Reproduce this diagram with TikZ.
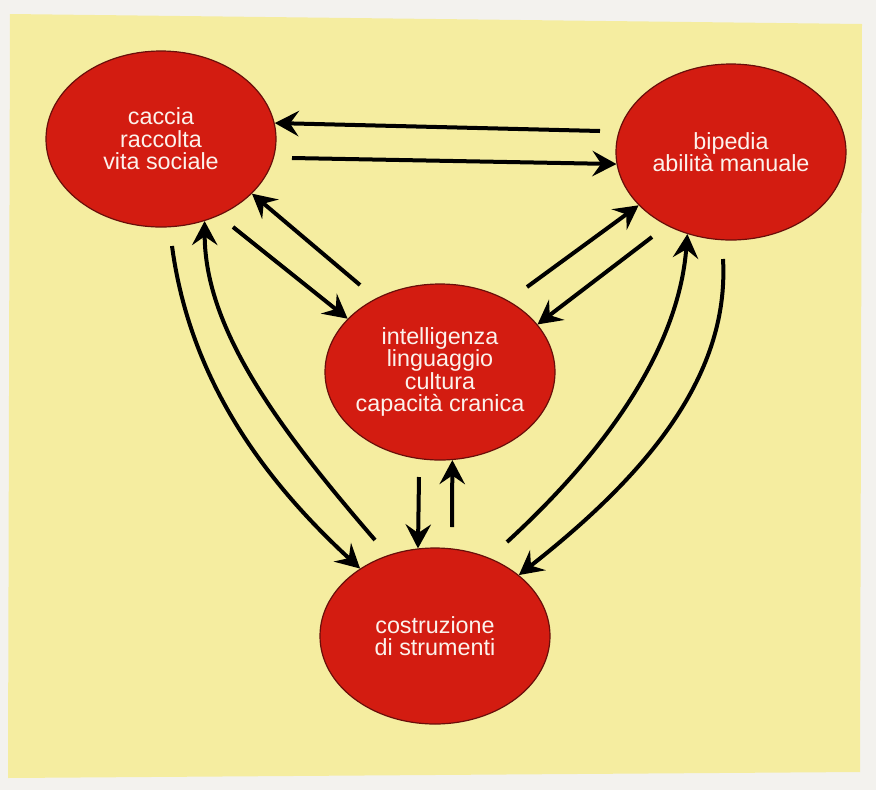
\documentclass[tikz,border=0pt]{standalone}
\usepackage{fontspec}
\setmainfont{Liberation Sans}
\usetikzlibrary{shapes.geometric,arrows.meta}

\definecolor{paper}{RGB}{243,242,238}
\definecolor{bgyellow}{RGB}{245,237,160}
\definecolor{blobred}{RGB}{211,28,17}
\definecolor{blobedge}{RGB}{105,14,10}
\definecolor{labelwhite}{RGB}{252,242,236}

\tikzset{
  blob/.style={ellipse, draw=blobedge, line width=0.9pt, fill=blobred,
    inner xsep=-8pt, inner ysep=0pt, minimum width=172.5pt, minimum height=132pt,
    align=center, text=labelwhite, font=\fontsize{17.5}{16.8}\selectfont},
  link/.style={line width=3pt, -{Stealth[length=18pt,width=19pt,inset=6.5pt]}},
}

\begin{document}
\begin{tikzpicture}[x=0.75pt,y=0.75pt,yscale=-1,xscale=1]
  \useasboundingbox (0,0) rectangle (876,790);

  %Shape: Paper and yellow panel
  \fill[paper] (0,0) rectangle (876,790);
  \fill[bgyellow] (10,14) -- (862,24) -- (860,772) -- (8,778) -- cycle;

  %Shape: Ellipses
  \node[blob] (cac) at (161,139) {caccia\\raccolta\\vita sociale};
  \node[blob] (bip) at (731,152) {bipedia\\abilità manuale};
  \node[blob] (intel) at (440,372) {intelligenza\\linguaggio\\cultura\\capacità cranica};
  \node[blob] (costr) at (435,636) {costruzione\\di strumenti};

  %Tails of the arrows
  \coordinate (t1) at (600,131);
  \coordinate (t2) at (292,158);
  \coordinate (t3) at (360,285);
  \coordinate (t4) at (233,227);
  \coordinate (t5) at (527,287);
  \coordinate (t6) at (652,237);
  \coordinate (t7) at (419,477);
  \coordinate (t8) at (452,527);
  \coordinate (t9) at (172,246);
  \coordinate (t10) at (375,540);
  \coordinate (t11) at (507,542);
  \coordinate (t12) at (723,259);

  %Straight Lines
  \draw[link] (t1) -- (cac.8);
  \draw[link] (t2) -- (bip.186);
  \draw[link] (t3) -- (cac.-31);
  \draw[link] (t4) -- (intel.150);
  \draw[link] (t5) -- (bip.210);
  \draw[link] (t6) -- (intel.26);
  \draw[link] (t7) -- (costr.101);
  \draw[link] (t8) -- (intel.-82);

  %Curve Lines
  \draw[link] (t9) .. controls (190,380) and (264,480) .. (costr.138);
  \draw[link] (t10) .. controls (280,430) and (205,330) .. (cac.-62);
  \draw[link] (t11) .. controls (629,430) and (680,330) .. (bip.242);
  \draw[link] (t12) .. controls (730,380) and (640,480) .. (costr.36);
\end{tikzpicture}
\end{document}
